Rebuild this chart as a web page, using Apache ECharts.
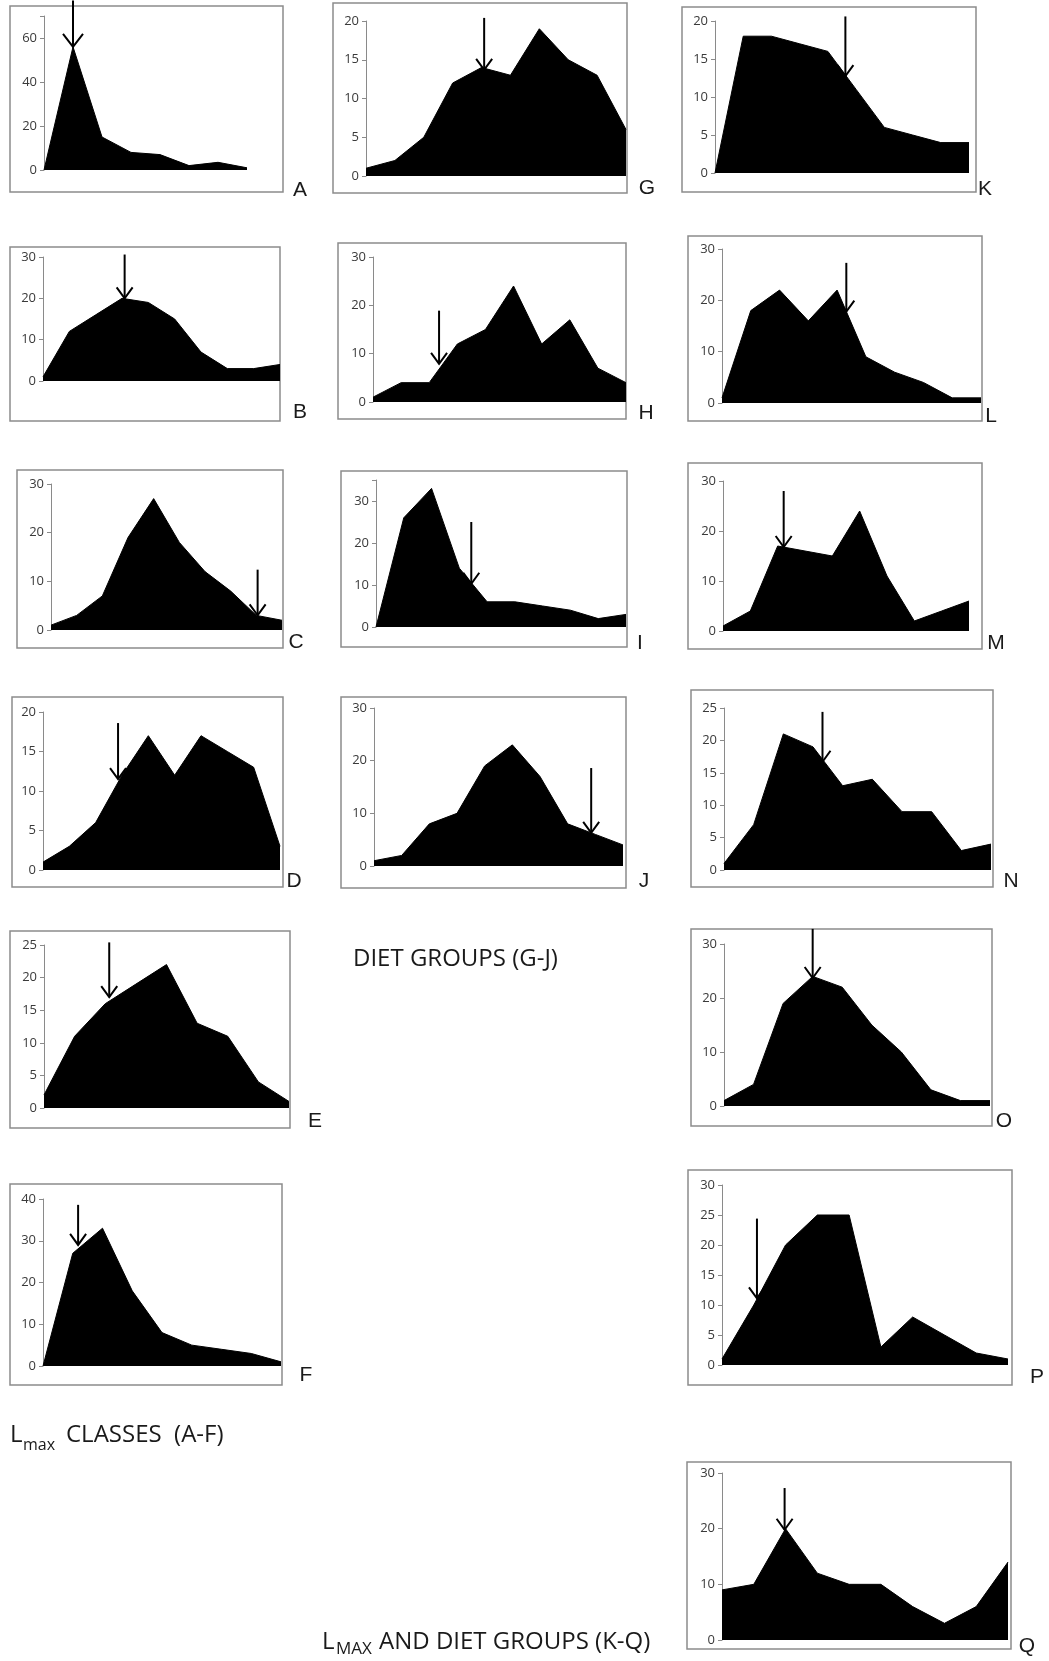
<!DOCTYPE html>
<html>
<head>
<meta charset="utf-8">
<title>Lmax and diet groups</title>
<script src="https://cdn.jsdelivr.net/npm/echarts@6/dist/echarts.min.js"></script>
<style>
  html, body { margin: 0; padding: 0; background: #fff; }
  #chart { width: 1049px; height: 1661px; }
</style>
</head>
<body>
<div id="chart"></div>
<script>
// panel values (frequency per size / diet class)
const valuesA = [0, 56, 15, 8, 7, 2, 3.5, 1];
const valuesB = [1, 12, 16, 20, 19, 15, 7, 3, 3, 4];
const valuesC = [1, 3, 7, 19, 27, 18, 12, 8, 3, 2];
const valuesD = [1, 3, 6, 12, 17, 12, 17, 15, 13, 3];
const valuesE = [2, 11, 16, 19, 22, 13, 11, 4, 1];
const valuesF = [0, 27, 33, 18, 8, 5, 4, 3, 1];
const valuesG = [1, 2, 5, 12, 14, 13, 19, 15, 13, 6];
const valuesH = [1, 4, 4, 12, 15, 24, 12, 17, 7, 4];
const valuesI = [0, 26, 33, 14, 6, 6, 5, 4, 2, 3];
const valuesJ = [1, 2, 8, 10, 19, 23, 17, 8, 6, 4];
const valuesK = [0, 18, 18, 17, 16, 11, 6, 5, 4, 4];
const valuesL = [1, 18, 22, 16, 22, 9, 6, 4, 1, 1];
const valuesM = [1, 4, 17, 16, 15, 24, 11, 2, 4, 6];
const valuesN = [1, 7, 21, 19, 13, 14, 9, 9, 3, 4];
const valuesO = [1, 4, 19, 24, 22, 15, 10, 3, 1, 1];
const valuesP = [1, 10, 20, 25, 25, 3, 8, 5, 2, 1];
const valuesQ = [9, 10, 20, 12, 10, 10, 6, 3, 6, 14];

const panelLetters = ['A', 'B', 'C', 'D', 'E', 'F', 'G', 'H', 'I', 'J', 'K', 'L', 'M', 'N', 'O', 'P', 'Q'];
const panelValues = [valuesA, valuesB, valuesC, valuesD, valuesE, valuesF, valuesG, valuesH, valuesI,
  valuesJ, valuesK, valuesL, valuesM, valuesN, valuesO, valuesP, valuesQ];

// y axis ranges and tick steps
const yMaxes = [70, 30, 30, 20, 25, 40, 20, 30, 35, 30, 20, 30, 30, 25, 30, 30, 30];
const yIntervals = [20, 10, 10, 5, 5, 10, 5, 10, 10, 10, 5, 10, 10, 5, 10, 5, 10];

// arrows: class position, value at the tip, value at the tail
const arrowX = [1, 3.1, 8.05, 2.85, 2.13, 1.18, 4.09, 2.35, 3.43, 7.85, 4.62, 4.32, 2.22, 3.32, 3, 1.1, 1.97];
const arrowTip = [56, 20, 3, 11.5, 17, 29, 13.7, 7.9, 10.3, 6.3, 12.75, 17.8, 16.8, 16.7, 23.7, 11.1, 19.8];
const arrowTail = [77, 30.6, 12.4, 18.6, 25.4, 38.6, 20.4, 18.9, 25, 18.6, 20.6, 27.3, 28, 24.4, 32.8, 24.4, 27.3];

// layout: plot area [left, top, width, height], frame [x1, y1, x2, y2], letter centre [x, y]
const plotBoxes = [
  [44, 16, 203, 154], [43, 257, 237, 124], [51, 484, 231, 146], [43, 712, 237, 158],
  [44, 945, 245, 163], [43, 1199, 238, 167],
  [366, 21, 260, 155], [373, 257, 253, 145], [376, 480, 250, 147], [374, 708, 249, 158],
  [715, 21, 254, 152], [722, 249, 259, 154], [723, 481, 246, 150], [724, 708, 267, 162],
  [724, 944, 266, 162], [722, 1185, 286, 180], [722, 1473, 286, 167]
];
const frames = [
  [10, 6, 283, 192], [10, 247, 280, 421], [17, 470, 283, 648], [12, 697, 283, 887],
  [10, 931, 290, 1128], [10, 1184, 282, 1385],
  [333, 3, 627, 193], [338, 243, 626, 419], [341, 471, 627, 647], [341, 697, 626, 888],
  [682, 7, 976, 192], [688, 236, 982, 421], [688, 463, 982, 649], [691, 690, 993, 887],
  [691, 929, 992, 1126], [688, 1170, 1012, 1385], [687, 1462, 1011, 1649]
];
const letterPos = [
  [300, 190], [300, 412], [296, 642], [294, 881], [315, 1121], [306, 1375],
  [647, 188], [646, 413], [640, 643], [644, 881],
  [985, 189], [991, 416], [996, 643], [1011, 881], [1004, 1121], [1037, 1377], [1027, 1646]
];

const chart = echarts.init(document.getElementById('chart'), null, { renderer: 'canvas' });

const grids = [];
const xAxes = [];
const yAxes = [];
const series = [];
const graphics = [];

panelValues.forEach((values, i) => {
  const box = plotBoxes[i];
  grids.push({ left: box[0], top: box[1], width: box[2], height: box[3], containLabel: false });

  xAxes.push({
    gridIndex: i,
    type: 'value',
    min: 0,
    max: values.length - 1,
    show: false,
  });

  const step = yIntervals[i];
  yAxes.push({
    gridIndex: i,
    type: 'value',
    min: 0,
    max: yMaxes[i],
    interval: step,
    axisLine: { show: true, lineStyle: { color: '#8a8a8a', width: 1 } },
    axisTick: { show: true, length: 4, lineStyle: { color: '#8a8a8a' } },
    splitLine: { show: false },
    axisLabel: {
      margin: 7,
      color: '#3a3a3a',
      fontSize: 13,
      fontFamily: '"Open Sans", sans-serif',
      formatter: v => (v % step === 0 ? String(v) : ''),
    },
  });

  series.push({
    type: 'line',
    xAxisIndex: i,
    yAxisIndex: i,
    data: values.map((v, k) => [k, v]),
    showSymbol: false,
    symbol: 'none',
    lineStyle: { color: '#000', width: 1 },
    areaStyle: { color: '#000', opacity: 1 },
    z: 2,
  });

  // arrow marking the reference class, drawn through the panel's own axes
  series.push({
    type: 'custom',
    xAxisIndex: i,
    yAxisIndex: i,
    clip: false,
    z: 5,
    data: [[arrowX[i], arrowTip[i], arrowTail[i]]],
    encode: { x: 0, y: 1 },
    renderItem: (params, api) => {
      const tip = api.coord([api.value(0), api.value(1)]);
      const tail = api.coord([api.value(0), api.value(2)]);
      const w = i === 0 ? 10 : 8;
      const h = i === 0 ? 13 : 11;
      return {
        type: 'group',
        children: [
          {
            type: 'line',
            shape: { x1: tail[0], y1: tail[1], x2: tip[0], y2: tip[1] },
            style: { stroke: '#000', lineWidth: 2 },
          },
          {
            type: 'polyline',
            shape: { points: [[tip[0] - w, tip[1] - h], [tip[0], tip[1]], [tip[0] + w, tip[1] - h]] },
            style: { stroke: '#000', fill: null, lineWidth: 2 },
          },
        ],
      };
    },
  });

  const f = frames[i];
  graphics.push({
    type: 'rect',
    shape: { x: f[0], y: f[1], width: f[2] - f[0], height: f[3] - f[1] },
    style: { stroke: '#8c8c8c', lineWidth: 1.5, fill: null },
    z: 1,
  });

  graphics.push({
    type: 'text',
    x: letterPos[i][0],
    y: letterPos[i][1],
    style: {
      text: panelLetters[i],
      font: '21px "Liberation Sans", Arial, sans-serif',
      fill: '#1a1a1a',
      align: 'center',
      verticalAlign: 'middle',
    },
  });
});

// group captions
const captionFont = '24px "Open Sans", sans-serif';
const subFont = '16px "Open Sans", sans-serif';
graphics.push(
  { type: 'text', x: 353, y: 959, style: { text: 'DIET GROUPS (G-J)', font: captionFont, fill: '#1a1a1a', verticalAlign: 'middle' } },
  { type: 'text', x: 10, y: 1435, style: { text: 'L', font: captionFont, fill: '#1a1a1a', verticalAlign: 'middle' } },
  { type: 'text', x: 23, y: 1445, style: { text: 'max', font: subFont, fill: '#1a1a1a', verticalAlign: 'middle' } },
  { type: 'text', x: 66, y: 1435, style: { text: 'CLASSES  (A-F)', font: captionFont, fill: '#1a1a1a', verticalAlign: 'middle' } },
  { type: 'text', x: 322, y: 1642, style: { text: 'L', font: captionFont, fill: '#1a1a1a', verticalAlign: 'middle' } },
  { type: 'text', x: 336, y: 1649, style: { text: 'MAX', font: '17px "Open Sans", sans-serif', fill: '#1a1a1a', verticalAlign: 'middle' } },
  { type: 'text', x: 379, y: 1642, style: { text: 'AND DIET GROUPS (K-Q)', font: captionFont, fill: '#1a1a1a', verticalAlign: 'middle' } }
);

chart.setOption({
  animation: false,
  backgroundColor: '#fff',
  grid: grids,
  xAxis: xAxes,
  yAxis: yAxes,
  series,
  graphic: graphics,
});
</script>
</body>
</html>
